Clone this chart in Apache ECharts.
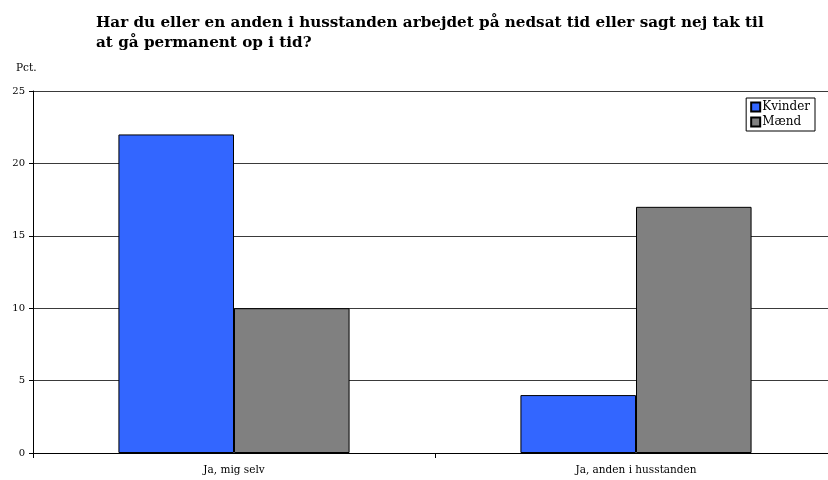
<!DOCTYPE html>
<html>
<head>
<meta charset="utf-8">
<script src="https://cdn.jsdelivr.net/npm/echarts@6/dist/echarts.min.js"></script>
<style>
  html, body { margin: 0; padding: 0; background: #fff; overflow: hidden; }
  #chart { width: 837px; height: 480px; }
</style>
</head>
<body>
<div id="chart"></div>
<script>
const categories = ['Ja, mig selv', 'Ja, anden i husstanden']
const kvinder = [22, 4]
const maend = [10, 17]
const yTicks = [0, 5, 10, 15, 20, 25]

const serif = '"DejaVu Serif", "Liberation Serif", serif'

// the plot runs past the right edge of the picture, so the div is wider than the window
const chart = echarts.init(document.getElementById('chart'))
chart.setOption({
  animation: false,
  title: {
    text: 'Har du eller en anden i husstanden arbejdet på nedsat tid eller sagt nej tak til\nat gå permanent op i tid?',
    left: 91,
    top: 8,
    textStyle: {
      fontFamily: serif,
      fontWeight: 'bold',
      fontSize: 15.2,
      lineHeight: 20,
      color: '#000'
    }
  },
  legend: {
    data: ['Kvinder', 'Mænd'],
    orient: 'vertical',
    right: 22,
    top: 98,
    icon: 'rect',
    itemWidth: 9,
    itemHeight: 9,
    itemGap: 3,
    padding: [3, 5, 3, 4],
    borderColor: '#000',
    borderWidth: 1,
    backgroundColor: '#fff',
    textStyle: { fontFamily: serif, fontSize: 12, color: '#000', padding: [0, 0, 0, -3] }
  },
  grid: {
    left: 33,
    right: 0,
    top: 91,
    bottom: 27
  },
  xAxis: {
    type: 'category',
    data: categories,
    axisLine: { lineStyle: { color: '#000', width: 1 } },
    axisTick: { show: true, alignWithLabel: false, length: 5, lineStyle: { color: '#000' } },
    axisLabel: { fontFamily: serif, fontSize: 10.5, color: '#000', margin: 12 }
  },
  yAxis: {
    type: 'value',
    min: yTicks[0],
    max: yTicks[yTicks.length - 1],
    interval: 5,
    name: 'Pct.',
    nameLocation: 'end',
    nameGap: 17,
    nameTextStyle: { fontFamily: serif, fontSize: 10.5, color: '#000', align: 'left', padding: [0, 0, 0, -17] },
    axisLine: { show: true, lineStyle: { color: '#000', width: 1 } },
    axisTick: { show: true, length: 4, lineStyle: { color: '#000' } },
    axisLabel: { fontFamily: serif, fontSize: 10, color: '#000', margin: 8 },
    splitLine: { show: true, lineStyle: { color: '#3a3a3a', width: 1 } }
  },
  series: [
    {
      name: 'Kvinder',
      type: 'bar',
      data: kvinder,
      barGap: '0%',
      barCategoryGap: '42.5%',
      itemStyle: { color: '#3366ff', borderColor: '#000', borderWidth: 1 }
    },
    {
      name: 'Mænd',
      type: 'bar',
      data: maend,
      itemStyle: { color: '#808080', borderColor: '#000', borderWidth: 1 }
    }
  ]
})
</script>
</body>
</html>
